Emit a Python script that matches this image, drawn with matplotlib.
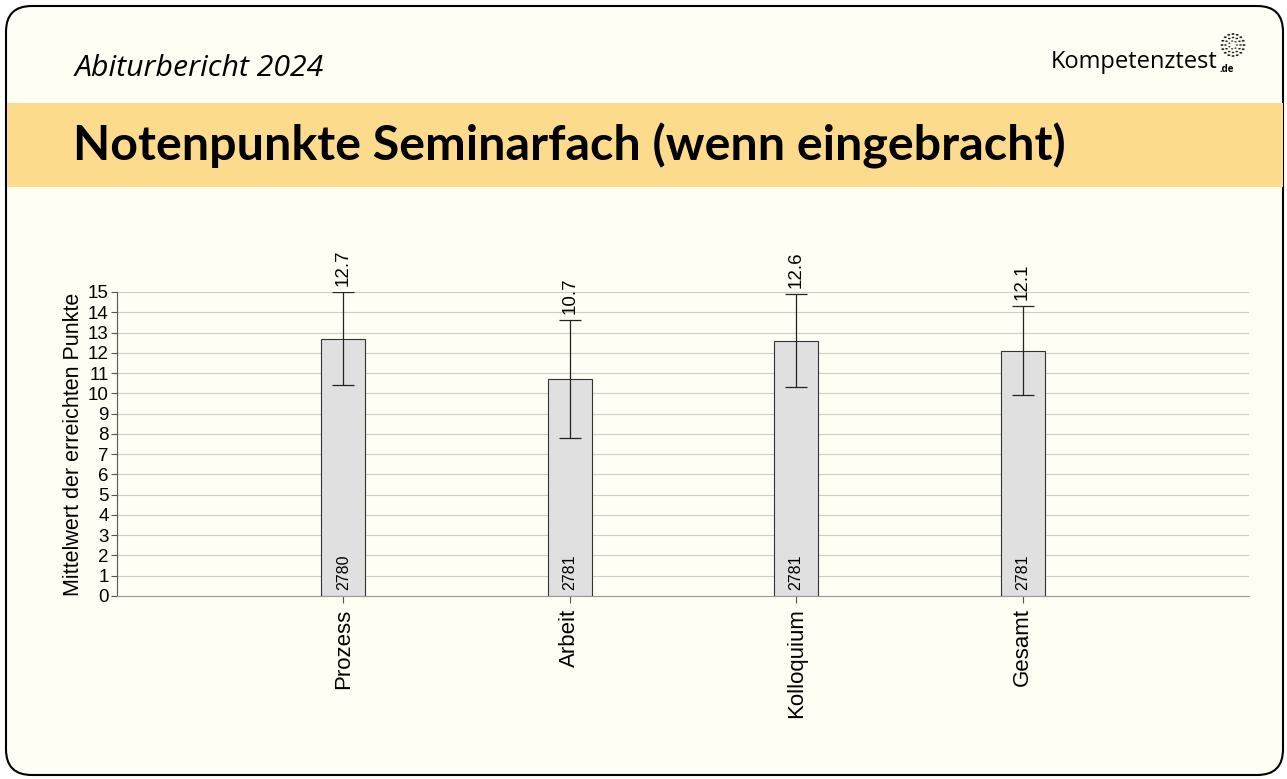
import numpy as np
import matplotlib.pyplot as plt
from matplotlib.patches import FancyBboxPatch, Rectangle, Circle

# data
categories = ['Prozess', 'Arbeit', 'Kolloquium', 'Gesamt']
means = [12.7, 10.7, 12.6, 12.1]
errors = [2.3, 2.9, 2.3, 2.2]
counts = [2780, 2781, 2781, 2781]
yticks = list(range(0, 16))

W, H = 1287, 779
plt.rcParams['font.family'] = ['Liberation Sans', 'DejaVu Sans']

fig = plt.figure(figsize=(W / 100, H / 100), dpi=100)
fig.patch.set_facecolor('white')


def fx(x):
    return x / W


def fy(y):
    return 1 - y / H


# card background with rounded corners
card = FancyBboxPatch((fx(6), fy(775)), fx(1277), (769) / H,
                      boxstyle='round,pad=0,rounding_size=0.02',
                      transform=fig.transFigure, facecolor='#fffef5',
                      edgecolor='black', linewidth=1.5, zorder=-10,
                      mutation_aspect=W / H)
fig.patches.append(card)

# yellow header band
band = Rectangle((fx(6.8), fy(187)), fx(1276.5), (187 - 103) / H,
                 transform=fig.transFigure, facecolor='#fddb8d',
                 edgecolor='none', zorder=-9)
fig.patches.append(band)

fig.text(fx(75), fy(68), 'Abiturbericht 2024', fontsize=21.8, style='italic',
         family=['Open Sans', 'DejaVu Sans'], va='center', ha='left')
fig.text(fx(73), fy(146), 'Notenpunkte Seminarfach (wenn eingebracht)',
         fontsize=34.8, weight='bold', family=['Lato', 'DejaVu Sans'],
         va='center', ha='left')

# logo
fig.text(fx(1051), fy(62), 'Kompetenztest', fontsize=17,
         family=['Open Sans', 'DejaVu Sans'], va='center', ha='left')
fig.text(fx(1219), fy(70), '.de', fontsize=7, weight='bold',
         family=['Open Sans', 'DejaVu Sans'], va='center', ha='left')
cx, cy = 1233, 45
for r, n, s in [(11, 16, 1.5), (7.5, 12, 1.3), (4, 7, 1.1)]:
    for a in np.linspace(0, 2 * np.pi, n, endpoint=False):
        fig.patches.append(Circle((fx(cx + r * np.cos(a)), fy(cy + r * np.sin(a))),
                                  s / W, transform=fig.transFigure,
                                  facecolor='#222222', edgecolor='none', zorder=2))

# chart
ax = fig.add_axes([fx(117), fy(596), fx(1249 - 117), (596 - 292) / H])
ax.set_facecolor('none')
x = np.arange(1, len(categories) + 1)
ax.bar(x, means, width=0.195, color='#e0e0e0', edgecolor='#333333',
       linewidth=0.8, zorder=3)
ax.errorbar(x, means, yerr=errors, fmt='none', ecolor='#222222',
            elinewidth=0.9, capsize=8, capthick=0.9, zorder=4)

for xi, m, e, c in zip(x, means, errors, counts):
    ax.text(xi, m + e + 0.3, f'{m:.1f}', rotation=90, ha='center',
            va='bottom', fontsize=13.5)
    ax.text(xi, 0.3, str(c), rotation=90, ha='center', va='bottom',
            fontsize=11.5)

ax.set_xlim(0, 5)
ax.set_ylim(0, 15)
ax.set_yticks(yticks)
ax.set_xticks(x)
ax.set_xticklabels(categories, rotation=90, fontsize=16)
ax.tick_params(axis='y', labelsize=13.5, length=4, width=0.8, color='#555555', pad=2)
ax.tick_params(axis='x', length=5, width=0.8, color='#555555', pad=4)
ax.grid(axis='y', color='#cccccc', linewidth=0.8, zorder=0)
ax.set_axisbelow(True)
for s in ['top', 'right']:
    ax.spines[s].set_visible(False)
ax.spines['left'].set_color('#555555')
ax.spines['bottom'].set_color('#999999')
ax.set_ylabel('Mittelwert der erreichten Punkte', fontsize=15.5, labelpad=3)

fig.savefig('out.png', dpi=100, facecolor='white')
